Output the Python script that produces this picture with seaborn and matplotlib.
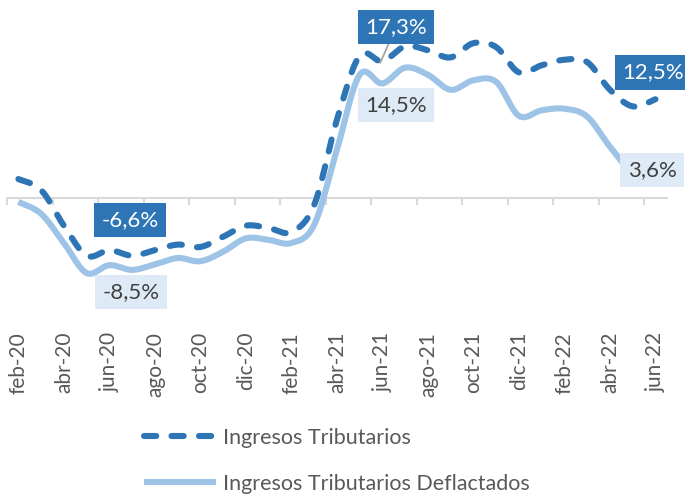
import numpy as np
import pandas as pd
import matplotlib
matplotlib.use("Agg")
import matplotlib.pyplot as plt
import seaborn as sns

# ---------------- data ----------------
months = ["feb-20", "mar-20", "abr-20", "may-20", "jun-20", "jul-20", "ago-20", "sep-20",
          "oct-20", "nov-20", "dic-20", "ene-21", "feb-21", "mar-21", "abr-21", "may-21",
          "jun-21", "jul-21", "ago-21", "sep-21", "oct-21", "nov-21", "dic-21", "ene-22",
          "feb-22", "mar-22", "abr-22", "may-22", "jun-22"]
ingresos = [2.4, 1.0, -3.5, -7.3, -6.6, -7.3, -6.6, -5.9, -6.2, -4.9, -3.5, -3.8, -4.3,
            -0.9, 9.9, 18.0, 17.3, 19.2, 18.7, 17.8, 19.6, 19.1, 15.9, 16.8, 17.5, 17.2,
            13.7, 11.6, 12.5]
deflactados = [-0.5, -2.0, -5.7, -9.5, -8.5, -9.1, -8.4, -7.6, -8.0, -6.8, -5.1, -5.3, -5.7,
               -3.4, 6.1, 15.6, 14.5, 16.5, 15.6, 13.7, 14.9, 14.7, 10.4, 11.1, 11.3, 10.3,
               6.5, 3.3, 3.6]
series_names = ["Ingresos Tributarios", "Ingresos Tributarios Deflactados"]
tick_labels = months[::2]
label_texts = ["-6,6%", "-8,5%", "17,3%", "14,5%", "12,5%", "3,6%"]

DARK = "#2E75B6"
LIGHT = "#9DC3E6"
LIGHTBOX = "#DEEBF7"
TXT = "#404040"
FONT = ["Lato", "DejaVu Sans"]


def smooth(vals, n=24):
    """Excel-like smoothed line (cubic Bezier / Catmull-Rom through every point)."""
    y = np.asarray(vals, dtype=float)
    x = np.arange(len(y), dtype=float)
    xs, ys = [], []
    for i in range(len(y) - 1):
        i0, i3 = max(i - 1, 0), min(i + 2, len(y) - 1)
        for arr, out in ((x, xs), (y, ys)):
            p0, p1, p2, p3 = arr[i0], arr[i], arr[i + 1], arr[i3]
            c1 = p1 + (p2 - p0) / 6.0
            c2 = p2 - (p3 - p1) / 6.0
            t = np.linspace(0, 1, n, endpoint=(i == len(y) - 2))
            out.append((1 - t) ** 3 * p1 + 3 * (1 - t) ** 2 * t * c1
                       + 3 * (1 - t) * t ** 2 * c2 + t ** 3 * p2)
    return np.concatenate(xs), np.concatenate(ys)


sns.set_theme(style="white")
plt.rcParams["font.family"] = FONT

fig = plt.figure(figsize=(6.85, 4.94), dpi=100)
ax = fig.add_axes([7 / 685, 1 - 316.5 / 494, 659.8 / 685, 316 / 494])

x1, y1 = smooth(ingresos)
x2, y2 = smooth(deflactados)
sns.lineplot(x=x1, y=y1, ax=ax, color=DARK, linewidth=4.4, sort=False, estimator=None,
             label=series_names[0], zorder=3)
sns.lineplot(x=x2, y=y2, ax=ax, color=LIGHT, linewidth=4.4, sort=False, estimator=None,
             label=series_names[1], zorder=4)
l_dash, l_solid = ax.get_lines()[0], ax.get_lines()[1]
l_dash.set_linestyle((0, (2.0, 2.5)))
l_dash.set_dash_capstyle("round")
l_solid.set_solid_capstyle("butt")

ax.set_xlim(-0.5, 28.5)
ax.set_ylim(-15, 25)
ax.set_yticks([])
ax.set_ylabel("")
for s in ["left", "right", "top"]:
    ax.spines[s].set_visible(False)
ax.spines["bottom"].set_position(("data", 0))
ax.spines["bottom"].set_color("#D9D9D9")
ax.spines["bottom"].set_linewidth(1.5)
ax.spines["bottom"].set_zorder(1)
ax.set_xticks(np.arange(-0.5, 28.5, 2))
ax.tick_params(axis="x", which="major", bottom=True, length=5, width=1.5,
               color="#D9D9D9", labelbottom=False, direction="out")

sec = ax.secondary_xaxis("bottom")
sec.set_xticks(range(0, len(months), 2), labels=tick_labels)
sec.tick_params(length=0, pad=11, labelrotation=90, labelsize=15, labelcolor="#595959")
sec.spines["bottom"].set_visible(False)
for t in sec.get_xticklabels():
    t.set_family(FONT)

# data labels
dark_box = dict(boxstyle="square,pad=0.32", fc=DARK, ec="none")
light_box = dict(boxstyle="square,pad=0.32", fc=LIGHTBOX, ec="none")
common = dict(ha="center", va="center", fontsize=16, zorder=6, family=FONT)
ax.text(4.9, -2.8, label_texts[0], color="white", bbox=dark_box, **common)
ax.text(4.95, -11.9, label_texts[1], color=TXT, bbox=light_box, **common)
ax.annotate(label_texts[2], xy=(15.9, ingresos[16] - 0.2), xytext=(16.6, 21.6),
            color="white", bbox=dark_box,
            arrowprops=dict(arrowstyle="-", color="#A6A6A6", lw=1.3, shrinkA=0, shrinkB=0),
            **common)
ax.text(16.6, 11.8, label_texts[3], color=TXT, bbox=light_box, **common)
ax.text(27.9, 15.9, label_texts[4], color="white", bbox=dark_box, **common)
ax.text(27.85, 3.5, label_texts[5], color=TXT, bbox=light_box, **common)

handles, labels = ax.get_legend_handles_labels()
ax.get_legend().remove()
leg = fig.legend(handles, labels, loc="upper left", bbox_to_anchor=(144 / 685, 1 - 428 / 494),
                 frameon=False, fontsize=15.5, handlelength=3.35, handletextpad=0.3,
                 labelspacing=1.2, borderpad=0, borderaxespad=0)
for t in leg.get_texts():
    t.set_color("#595959")
    t.set_family(FONT)

fig.savefig("out.png", dpi=100)
